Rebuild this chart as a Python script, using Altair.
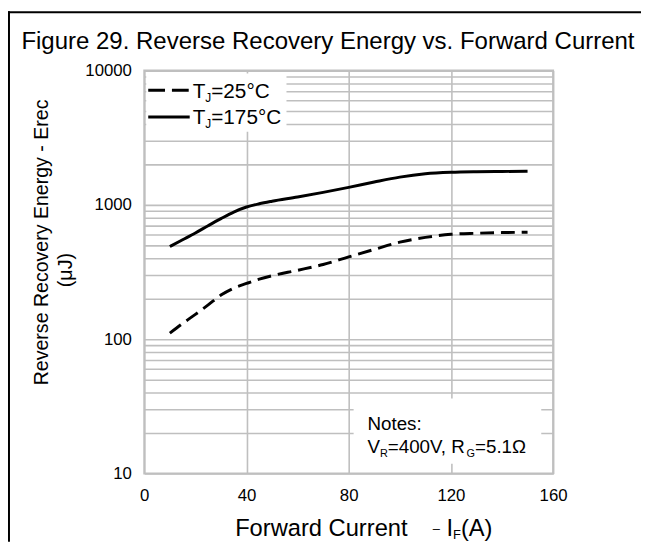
import altair as alt
import pandas as pd

# ---- data ----
current = [10, 15, 20, 25, 30, 35, 40, 45, 50, 60, 70, 80, 90, 100, 110, 120, 130, 140, 150]
erec_175 = [490, 550, 618, 700, 790, 885, 965, 1020, 1065, 1145, 1240, 1350, 1480, 1610, 1705, 1750, 1768, 1775, 1780]
erec_25 = [111, 131, 153, 180, 213, 240, 260, 280, 297, 326, 360, 410, 466, 528, 573, 604, 615, 622, 626]
x_ticks = [0, 40, 80, 120, 160]
y_grid = [10, 20, 30, 40, 50, 60, 70, 80, 90,
          100, 200, 300, 400, 500, 600, 700, 800, 900,
          1000, 2000, 3000, 4000, 5000, 6000, 7000, 8000, 9000, 10000]
y_labels = [10, 100, 1000, 10000]

FONT = "Liberation Sans"
W, H = 414, 408
GRID = "#BFBFBF"

df25 = pd.DataFrame({"current": current, "erec": erec_25})
df175 = pd.DataFrame({"current": current, "erec": erec_175})

label_expr = "indexof([" + ",".join(str(v) for v in y_labels) + "], datum.value) >= 0 ? format(datum.value, 'd') : ''"

x_enc = alt.X("current:Q", scale=alt.Scale(domain=[0, 160], nice=False),
              axis=alt.Axis(values=x_ticks, grid=True, gridColor=GRID, gridWidth=1.6,
                            domain=False, ticks=False, labelFontSize=17, labelFont=FONT,
                            labelColor="black", labelPadding=14, labelFlush=False, title=None))
y_enc = alt.Y("erec:Q", scale=alt.Scale(type="log", domain=[10, 10000], nice=False),
              axis=alt.Axis(values=y_grid, labelExpr=label_expr, grid=True, gridColor=GRID,
                            gridWidth=1.6, domain=False, ticks=False, labelFontSize=17,
                            labelFont=FONT, labelColor="black", labelPadding=13,
                            labelFlush=False, labelOverlap=False, title=None))

line175 = alt.Chart(df175).mark_line(color="black", strokeWidth=3, interpolate="monotone").encode(x=x_enc, y=y_enc)
line25 = alt.Chart(df25).mark_line(color="black", strokeWidth=3, strokeDash=[14, 7],
                                    interpolate="monotone").encode(x=x_enc, y=y_enc)

one = pd.DataFrame({"a": [0]})


def box(x1, x2, y1, y2):
    return alt.Chart(one).mark_rect(color="white").encode(
        x=alt.value(x1), x2=alt.value(x2), y=alt.value(y1), y2=alt.value(y2))


def rule(x1, x2, y1, y2, width, dash=None, color="black"):
    kw = dict(color=color, strokeWidth=width)
    if dash:
        kw["strokeDash"] = dash
    return alt.Chart(one).mark_rule(**kw).encode(
        x=alt.value(x1), x2=alt.value(x2), y=alt.value(y1), y2=alt.value(y2))


def txt(t, x, y, size, angle=0, align="left", baseline="alphabetic"):
    kw = dict(text=t, font=FONT, fontSize=size, color="black", align=align, baseline=baseline)
    if angle:
        kw["angle"] = angle
    return alt.Chart(one).mark_text(**kw).encode(x=alt.value(x), y=alt.value(y))


layers = [
    box(2, 144, 3, 62),        # legend background
    box(212, 402, 332, 398),   # notes background
    line25, line175,
    # legend
    rule(4, 46, 20, 20, 3, dash=[17, 7]),
    rule(4, 46, 47, 47, 3),
    txt("T", 49, 27.5, 21), txt("J", 61.8, 31.5, 12), txt("=25°C", 67.8, 27.5, 21),
    txt("T", 49, 54.5, 21), txt("J", 61.8, 58.5, 12), txt("=175°C", 67.8, 54.5, 21),
    # notes
    txt("Notes:", 226, 364, 19),
    txt("V", 226, 387, 19), txt("R", 238.7, 391, 11), txt("=400V, R", 246.6, 387, 19),
    txt("G", 326.3, 391, 11), txt("=5.1Ω", 334.9, 387, 19),
    # title
    txt("Figure 29. Reverse Recovery Energy vs. Forward Current", 186, -22, 24.3, align="center"),
    # y-axis title
    txt("Reverse Recovery Energy - Erec", -98, 174, 19.8, angle=270, align="center"),
    txt("(μJ)", -73, 202, 20, angle=270, align="center"),
    # x-axis title
    txt("Forward Current", 92, 471, 24),
    txt("–", 292, 468, 13),
    txt("I", 306, 471, 24), txt("F", 312.7, 474, 13), txt("(A)", 320.6, 471, 24),
    # outer frame lines
    rule(-138, 503, -59, -59, 2),
    rule(-137, -137, -60, 477, 2),
]

chart = alt.layer(*layers).properties(
    width=W, height=H,
    autosize=alt.AutoSizeParams(type="none"),
    padding={"left": 138, "top": 60, "right": 89, "bottom": 69},
    background="white",
).configure_view(stroke=GRID, strokeWidth=2)

chart.save("out.html", embed_options={"renderer": "svg", "actions": False})
